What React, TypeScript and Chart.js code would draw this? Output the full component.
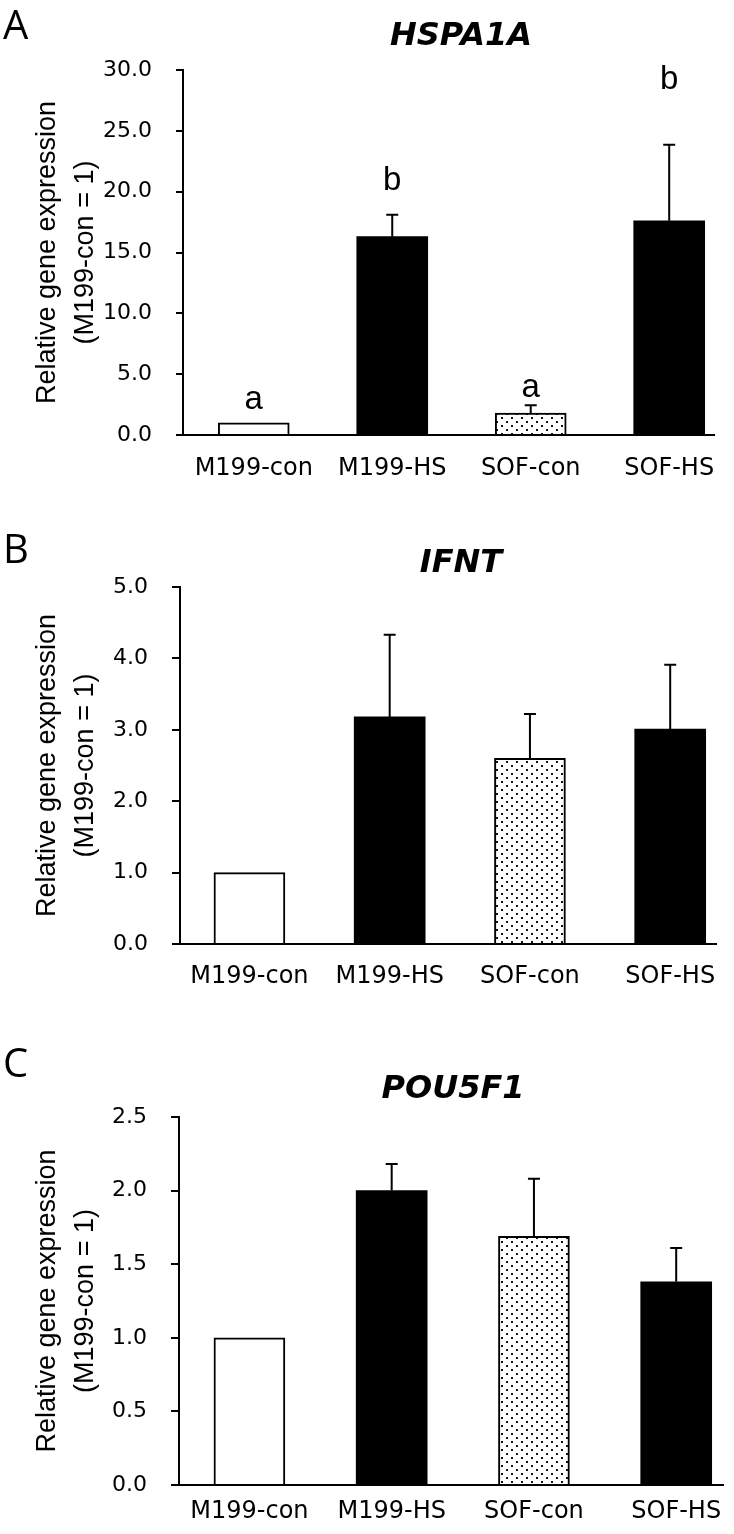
import React, { useEffect, useRef } from 'react';
import { Chart, registerables } from 'chart.js';

Chart.register(...registerables);

// ---- data ----
const categories = ['M199-con', 'M199-HS', 'SOF-con', 'SOF-HS'];
const fills = ['white', 'black', 'dots', 'black'];

const hspa1aMeans = [1.0, 16.3, 1.8, 17.6];
const hspa1aErrors = [0, 1.8, 0.65, 6.25];
const hspa1aLetters = ['a', 'b', 'a', 'b'];
const hspa1aLetterLevels = [2.1, 20.1, 3.1, 28.4];

const ifntMeans = [1.0, 3.18, 2.6, 3.01];
const ifntErrors = [0, 1.15, 0.62, 0.9];

const pou5f1Means = [1.0, 2.0, 1.69, 1.38];
const pou5f1Errors = [0, 0.18, 0.39, 0.23];

const yTitle = ['Relative gene expression', '(M199-con = 1)'];

type PanelCfg = {
  id: string;
  gene: string;
  means: number[];
  errors: number[];
  letters: string[];
  letterLevels: number[];
  yMax: number;
  yStep: number;
  height: number;
  top: number;
  axisLeft: number;
  xHeight: number;
  xMin: number;
  xMax: number;
  labelPad: number;
  tickLen: number;
  letterBase: number;
  titleX: number;
  titleBase: number;
};

const panels: PanelCfg[] = [
  {
    id: 'A', gene: 'HSPA1A', means: hspa1aMeans, errors: hspa1aErrors,
    letters: hspa1aLetters, letterLevels: hspa1aLetterLevels,
    yMax: 30, yStep: 5, height: 500, top: 70, axisLeft: 183, xHeight: 65,
    xMin: -0.511, xMax: 3.33, labelPad: 19, tickLen: 7,
    letterBase: 39, titleX: 461, titleBase: 45,
  },
  {
    id: 'B', gene: 'IFNT', means: ifntMeans, errors: ifntErrors,
    letters: [], letterLevels: [],
    yMax: 5, yStep: 1, height: 500, top: 87, axisLeft: 180, xHeight: 56,
    xMin: -0.495, xMax: 3.33, labelPad: 18, tickLen: 8,
    letterBase: 63, titleX: 461, titleBase: 72,
  },
  {
    id: 'C', gene: 'POU5F1', means: pou5f1Means, errors: pou5f1Errors,
    letters: [], letterLevels: [],
    yMax: 2.5, yStep: 0.5, height: 534, top: 117, axisLeft: 179, xHeight: 49,
    xMin: -0.495, xMax: 3.33, labelPad: 12, tickLen: 8,
    letterBase: 77, titleX: 453, titleBase: 98,
  },
];

function makeDots(ctx: CanvasRenderingContext2D) {
  const t = document.createElement('canvas');
  t.width = 10;
  t.height = 8;
  const c = t.getContext('2d')!;
  c.fillStyle = '#ffffff';
  c.fillRect(0, 0, 10, 8);
  c.fillStyle = '#111111';
  c.fillRect(1, 1, 2, 2);
  c.fillRect(6, 5, 2, 2);
  return ctx.createPattern(t, 'repeat');
}

function Panel({ cfg }: { cfg: PanelCfg }) {
  const ref = useRef<HTMLCanvasElement>(null);
  useEffect(() => {
    const canvas = ref.current!;
    const ctx0 = canvas.getContext('2d')!;
    const pattern = makeDots(ctx0);
    const bg = fills.map((f) => (f === 'dots' ? pattern : f === 'black' ? '#000000' : '#ffffff'));
    const bw = fills.map((f) => (f === 'black' ? 0 : 2));

    const overlay = {
      id: 'overlay' + cfg.id,
      afterDatasetsDraw(chart: any) {
        const ctx = chart.ctx as CanvasRenderingContext2D;
        const ys = chart.scales.y;
        const meta = chart.getDatasetMeta(0);
        ctx.save();
        ctx.strokeStyle = '#000';
        ctx.lineWidth = 2;
        meta.data.forEach((bar: any, i: number) => {
          const err = cfg.errors[i];
          if (!err) return;
          const top = ys.getPixelForValue(cfg.means[i] + err);
          ctx.beginPath();
          ctx.moveTo(bar.x, bar.y);
          ctx.lineTo(bar.x, top);
          ctx.moveTo(bar.x - 6, top);
          ctx.lineTo(bar.x + 6, top);
          ctx.stroke();
        });
        ctx.fillStyle = '#000';
        ctx.textAlign = 'center';
        ctx.textBaseline = 'alphabetic';
        ctx.font = "33px 'Liberation Sans'";
        cfg.letters.forEach((l, i) => {
          const bar = meta.data[i];
          ctx.fillText(l, bar.x, ys.getPixelForValue(cfg.letterLevels[i]));
        });
        ctx.textAlign = 'left';
        ctx.font = "40px 'Open Sans'";
        ctx.fillText(cfg.id, 3, cfg.letterBase);
        ctx.textAlign = 'center';
        ctx.font = "italic bold 32px 'DejaVu Sans'";
        ctx.fillText(cfg.gene, cfg.titleX, cfg.titleBase);
        ctx.restore();
      },
    };

    const chart = new Chart(canvas, {
      type: 'bar',
      data: {
        datasets: [
          {
            data: cfg.means.map((m, i) => ({ x: i, y: m })),
            backgroundColor: bg as any,
            borderColor: '#000000',
            borderWidth: bw,
            barThickness: 71,
            borderSkipped: 'start',
          },
        ],
      },
      options: {
        responsive: false,
        animation: false,
        events: [],
        layout: { padding: { top: cfg.top, left: 0, right: 10, bottom: 0 } },
        plugins: { legend: { display: false }, tooltip: { enabled: false } },
        scales: {
          x: {
            type: 'linear',
            min: cfg.xMin,
            max: cfg.xMax,
            offset: false,
            afterBuildTicks: (s: any) => {
              s.ticks = categories.map((_, i) => ({ value: i }));
            },
            afterFit: (s: any) => {
              s.height = cfg.xHeight;
            },
            ticks: {
              autoSkip: false,
              maxRotation: 0,
              padding: cfg.labelPad,
              color: '#000',
              font: { family: "'DejaVu Sans'", size: 24 },
              callback: (v: any) => categories[v] ?? '',
            },
            grid: { display: false, drawTicks: false, offset: false },
            border: { display: true, color: '#000', width: 2 },
          },
          y: {
            type: 'linear',
            min: 0,
            max: cfg.yMax,
            afterFit: (s: any) => {
              s.width = cfg.axisLeft;
            },
            ticks: {
              stepSize: cfg.yStep,
              padding: 24,
              color: '#000',
              font: { family: "'DejaVu Sans'", size: 22 },
              callback: (v: any) => Number(v).toFixed(1),
            },
            grid: {
              display: true,
              drawOnChartArea: false,
              drawTicks: true,
              tickLength: cfg.tickLen,
              tickWidth: 2,
              tickColor: '#000',
              color: '#000',
              lineWidth: 2,
            },
            border: { display: true, color: '#000', width: 2 },
            title: {
              display: true,
              text: yTitle,
              color: '#000',
              padding: { top: 28.5, bottom: 0 },
              font: { family: "'Liberation Sans'", size: 27, lineHeight: 38 / 27 },
            },
          },
        },
      } as any,
      plugins: [overlay],
    });
    return () => chart.destroy();
  }, [cfg]);
  return (
    <canvas
      ref={ref}
      width={734}
      height={cfg.height}
      style={{ display: 'block', width: 734, height: cfg.height }}
    />
  );
}

export default function App() {
  return (
    <div style={{ position: 'absolute', left: 0, top: 0, width: 734, height: 1534, background: '#fff' }}>
      {panels.map((p) => (
        <Panel key={p.id} cfg={p} />
      ))}
    </div>
  );
}
